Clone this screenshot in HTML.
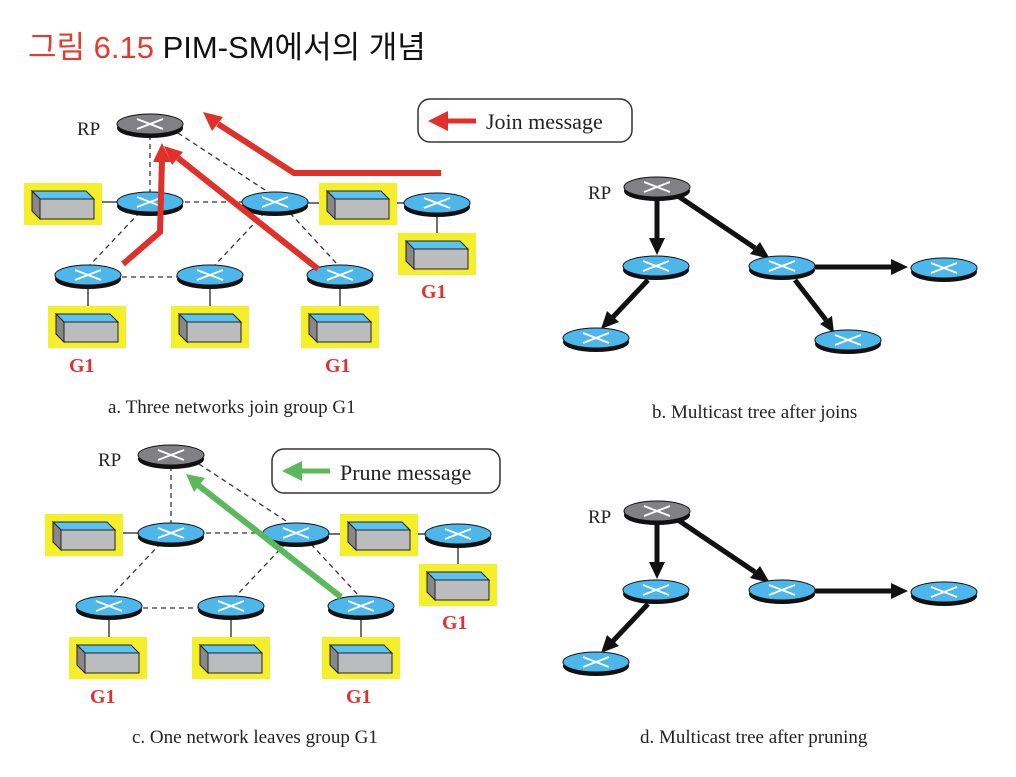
<!DOCTYPE html>
<html><head><meta charset="utf-8"><style>
html,body{margin:0;padding:0;background:#fff;}
svg{display:block;}
.t{font-family:"Liberation Serif",serif;fill:#222;}
.g1{font-family:"Liberation Serif",serif;font-weight:bold;fill:#e03030;font-size:20px;}
</style></head><body>
<svg width="1016" height="777" viewBox="0 0 1016 777" xmlns="http://www.w3.org/2000/svg">
<defs>
<g id="rt">
  <ellipse cx="0" cy="4" rx="33" ry="10" fill="#111"/>
  <ellipse cx="0" cy="0" rx="33" ry="10" fill="#4db6ea" stroke="#111" stroke-width="1"/>
  <path d="M-13,-5 L13,5 M-13,5 L13,-5" stroke="#fff" stroke-width="2"/>
</g>
<g id="rp">
  <ellipse cx="0" cy="4" rx="33" ry="10" fill="#111"/>
  <ellipse cx="0" cy="0" rx="33" ry="10" fill="#808085" stroke="#111" stroke-width="1"/>
  <path d="M-13,-5 L13,5 M-13,5 L13,-5" stroke="#fff" stroke-width="2"/>
</g>
<g id="host">
  <rect x="0" y="0" width="78" height="42" fill="#f5ee2a"/>
  <polygon points="8,8 62,8 70,16 16,16" fill="#5bc3ef" stroke="#222" stroke-width="1"/>
  <polygon points="8,8 16,16 16,36 8,28" fill="#888" stroke="#222" stroke-width="1"/>
  <rect x="16" y="16" width="54" height="20" fill="#bbbcbe" stroke="#222" stroke-width="1"/>
</g>
<g id="net">
  <g stroke="#333" stroke-width="1.3" stroke-dasharray="5,4" fill="none">
    <line x1="150" y1="135" x2="150" y2="192"/>
    <line x1="178" y1="133" x2="268" y2="192"/>
    <line x1="185" y1="202" x2="242" y2="202"/>
    <line x1="140" y1="212" x2="90" y2="265"/>
    <line x1="265" y1="212" x2="215" y2="265"/>
    <line x1="290" y1="213" x2="338" y2="265"/>
    <line x1="122" y1="277" x2="177" y2="277"/>
  </g>
  <g stroke="#222" stroke-width="1.3">
    <line x1="98" y1="202" x2="118" y2="202"/>
    <line x1="306" y1="203" x2="322" y2="203"/>
    <line x1="393" y1="203" x2="404" y2="203"/>
    <line x1="437" y1="213" x2="437" y2="244"/>
    <line x1="88" y1="285" x2="88" y2="316"/>
    <line x1="210" y1="285" x2="210" y2="316"/>
    <line x1="340" y1="285" x2="340" y2="316"/>
  </g>
  <use href="#host" x="24" y="183"/>
  <use href="#host" x="319" y="183"/>
  <use href="#host" x="398" y="233"/>
  <use href="#host" x="48" y="306"/>
  <use href="#host" x="171" y="306"/>
  <use href="#host" x="301" y="306"/>
  <use href="#rp" x="150" y="124"/>
  <use href="#rt" x="150" y="202"/>
  <use href="#rt" x="275" y="202"/>
  <use href="#rt" x="437" y="203"/>
  <use href="#rt" x="88" y="275"/>
  <use href="#rt" x="210" y="275"/>
  <use href="#rt" x="340" y="275"/>
  <text x="77" y="135" class="t" font-size="19">RP</text>
  <text x="69" y="372" class="g1">G1</text>
  <text x="325" y="372" class="g1">G1</text>
  <text x="421" y="298" class="g1">G1</text>
</g>
</defs>

<text x="28" y="58" font-family="'Liberation Sans','Noto Sans CJK KR',sans-serif" font-size="31"><tspan fill="#e8392e">그림 6.15</tspan><tspan fill="#111"> PIM-SM에서의 개념</tspan></text>

<!-- panel a -->
<use href="#net"/>
<g stroke="#e0302a" stroke-width="6" fill="none" stroke-linejoin="miter">
  <polyline points="123,264 160,232 162,160"/>
  <line x1="318" y1="269" x2="178" y2="158"/>
  <polyline points="441,173 294,173 218,124"/>
</g>
<g fill="#e0302a">
  <polygon points="153,162 171,162 162,143"/>
  <polygon points="172,165 183,152 164,146"/>
  <polygon points="212,131 223,117 203,112"/>
</g>
<rect x="418" y="99" width="214" height="43" rx="12" fill="#fff" stroke="#333" stroke-width="1.5"/>
<line x1="446" y1="121" x2="476" y2="121" stroke="#e0302a" stroke-width="5"/>
<polygon points="428,121 448,111 448,131" fill="#e0302a"/>
<text x="486" y="129" class="t" font-size="22">Join message</text>
<text x="108" y="413" class="t" font-size="19">a. Three networks join group G1</text>

<!-- panel b -->
<g>
  <g stroke="#111" stroke-width="5" fill="none">
    <line x1="657" y1="198" x2="657" y2="240"/>
    <line x1="678" y1="196" x2="755" y2="248"/>
    <line x1="815" y1="267" x2="893" y2="267"/>
    <line x1="648" y1="280" x2="613" y2="317"/>
    <line x1="795" y1="280" x2="826" y2="320"/>
  </g>
  <g fill="#111">
    <polygon points="649,238 665,238 657,255"/>
    <polygon points="750,254 760,242 770,259"/>
    <polygon points="891,259 891,275 908,267"/>
    <polygon points="607,311 619,322 601,329"/>
    <polygon points="820,324 832,316 834,333"/>
  </g>
  <use href="#rp" x="657" y="187"/>
  <use href="#rt" x="656" y="266"/>
  <use href="#rt" x="782" y="266"/>
  <use href="#rt" x="944" y="268"/>
  <use href="#rt" x="596" y="338"/>
  <use href="#rt" x="848" y="340"/>
  <text x="588" y="199" class="t" font-size="19">RP</text>
</g>
<text x="652" y="418" class="t" font-size="19">b. Multicast tree after joins</text>

<!-- panel c -->
<use href="#net" transform="translate(21,331)"/>
<line x1="341" y1="597" x2="198" y2="485" stroke="#5cb85c" stroke-width="6"/>
<polygon points="186,474 205,478 194,492" fill="#5cb85c"/>
<rect x="272" y="449" width="228" height="44" rx="12" fill="#fff" stroke="#333" stroke-width="1.5"/>
<line x1="300" y1="471" x2="330" y2="471" stroke="#5cb85c" stroke-width="5"/>
<polygon points="282,471 302,461 302,481" fill="#5cb85c"/>
<text x="340" y="480" class="t" font-size="22">Prune message</text>
<text x="132" y="743" class="t" font-size="19">c. One network leaves group G1</text>

<!-- panel d -->
<g transform="translate(0,324)">
  <g stroke="#111" stroke-width="5" fill="none">
    <line x1="657" y1="198" x2="657" y2="240"/>
    <line x1="678" y1="196" x2="755" y2="248"/>
    <line x1="815" y1="267" x2="893" y2="267"/>
    <line x1="648" y1="280" x2="613" y2="317"/>
  </g>
  <g fill="#111">
    <polygon points="649,238 665,238 657,255"/>
    <polygon points="750,254 760,242 770,259"/>
    <polygon points="891,259 891,275 908,267"/>
    <polygon points="607,311 619,322 601,329"/>
  </g>
  <use href="#rp" x="657" y="187"/>
  <use href="#rt" x="656" y="266"/>
  <use href="#rt" x="782" y="266"/>
  <use href="#rt" x="944" y="268"/>
  <use href="#rt" x="596" y="338"/>
  <text x="588" y="199" class="t" font-size="19">RP</text>
</g>
<text x="640" y="743" class="t" font-size="19">d. Multicast tree after pruning</text>
</svg>
</body></html>
